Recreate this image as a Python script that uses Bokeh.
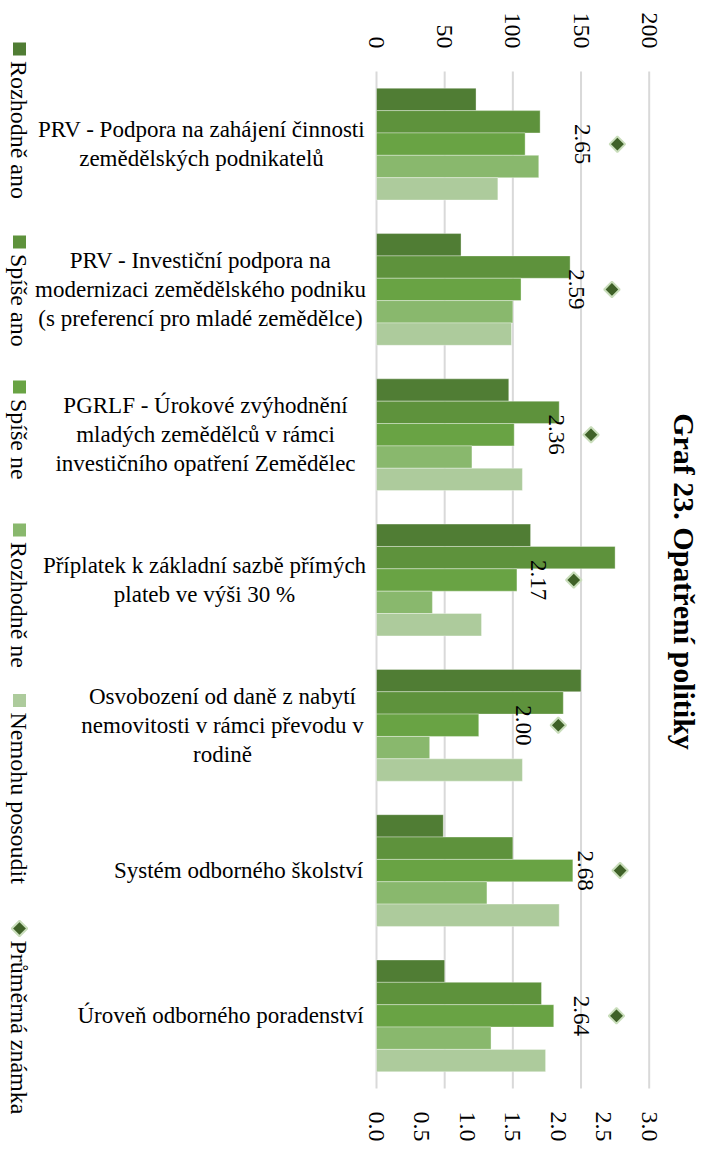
import math
from bokeh.plotting import figure
from bokeh.models import (Range1d, LinearAxis, FixedTicker,
                          ColumnDataSource, PrintfTickFormatter)
from bokeh.core.properties import value
from bokeh.embed import file_html
from bokeh.resources import INLINE

# ---------------- data ----------------
categories = [
    "PRV - Podpora na zahájení činnosti\nzemědělských podnikatelů",
    "PRV - Investiční podpora na\nmodernizaci zemědělského podniku\n(s preferencí pro mladé zemědělce)",
    "PGRLF - Úrokové zvýhodnění\nmladých zemědělců v rámci\ninvestičního opatření Zemědělec",
    "Příplatek k základní sazbě přímých\nplateb ve výši 30 %",
    "Osvobození od daně z nabytí\nnemovitosti v rámci převodu v\nrodině",
    "Systém odborného školství",
    "Úroveň odborného poradenství",
]
series = ["Rozhodně ano", "Spíše ano", "Spíše ne", "Rozhodně ne", "Nemohu posoudit"]
rozhodne_ano = [73, 62, 97, 113, 150, 49, 50]
spise_ano = [120, 142, 134, 175, 137, 100, 121]
spise_ne = [109, 106, 101, 103, 75, 144, 130]
rozhodne_ne = [119, 100, 70, 41, 39, 81, 84]
nemohu_posoudit = [89, 99, 107, 77, 107, 134, 124]
prumerna_znamka = [2.65, 2.59, 2.36, 2.17, 2.00, 2.68, 2.64]
avg_labels = ["2.65", "2.59", "2.36", "2.17", "2.00", "2.68", "2.64"]
avg_name = "Průměrná známka"
top_ticks = [0, 50, 100, 150, 200]
bottom_ticks = [0.0, 0.5, 1.0, 1.5, 2.0, 2.5, 3.0]
title_text = "Graf 23. Opatření politiky"

colors = ["#507D34", "#5E923C", "#69A344", "#89B86D", "#ADCB9C"]
diamond_fill = "#3F6128"
diamond_line = "#C9DDBB"
grid_color = "#D9D9D9"
FONT = "'Liberation Serif', serif"

# ---------------- layout constants (page pixels) ----------------
plot_top, plot_bottom = 71, 1088          # extent of the bar area / grid lines
frame_top, frame_bottom = 38, 1124        # drawing frame (also holds the legend)
frame_w, frame_h = 662, frame_bottom - frame_top
zero_px = 376.0
px_per_unit = 272.7 / 200.0
x_start = -zero_px / px_per_unit
x_end = (frame_w - zero_px) / px_per_unit
scale2 = 3.0 / 200.0

# slot geometry on the category axis (1 slot = one bar)
n_ser = len(series)
gap = 1.5
pad = 0.75
group_w = n_ser + gap
total_slots = pad * 2 + len(categories) * n_ser + (len(categories) - 1) * gap
slot_px = (plot_bottom - plot_top) / total_slots
y_top = -(plot_top - frame_top) / slot_px
y_bottom = total_slots + (frame_bottom - plot_bottom) / slot_px

# horizontal centre (page px) of each category label block
label_x_px = [201, 200, 205, 204, 222, 238, 220]


def group_center(ci):
    return pad + ci * group_w + n_ser / 2.0


values = [rozhodne_ano, spise_ano, spise_ne, rozhodne_ne, nemohu_posoudit]
ys, rights, cols = [], [], []
for ci in range(len(categories)):
    for si in range(n_ser):
        ys.append(pad + ci * group_w + si + 0.5)
        rights.append(values[si][ci])
        cols.append(colors[si])
bar_src = ColumnDataSource(dict(y=ys, right=rights, color=cols))

p = figure(
    frame_width=frame_w, frame_height=frame_h,
    x_range=Range1d(x_start, x_end),
    y_range=Range1d(y_bottom, y_top),
    x_axis_location="above", y_axis_location=None,
    toolbar_location=None, output_backend="svg",
    min_border_left=0, min_border_right=42, min_border_top=frame_top,
    min_border_bottom=1148 - frame_bottom,
)
p.extra_x_ranges = {"avg": Range1d(x_start * scale2, x_end * scale2),
                    "pxx": Range1d(0, frame_w)}
p.extra_y_ranges = {"pxy": Range1d(frame_bottom, frame_top)}
p.outline_line_color = None
p.grid.visible = False


def style_axis(a, standoff):
    a.axis_line_color = None
    a.major_tick_line_color = None
    a.minor_tick_line_color = None
    a.major_tick_in = 0
    a.major_tick_out = 0
    a.major_label_orientation = -math.pi / 2
    a.major_label_standoff = standoff
    a.major_label_text_font = FONT
    a.major_label_text_font_size = "24px"
    a.major_label_text_color = "black"


ax = p.xaxis[0]
ax.ticker = FixedTicker(ticks=top_ticks)
style_axis(ax, -((plot_top - 23) - frame_top))

ax2 = LinearAxis(x_range_name="avg", ticker=FixedTicker(ticks=bottom_ticks),
                 formatter=PrintfTickFormatter(format="%.1f"))
style_axis(ax2, (plot_bottom + 23) - frame_bottom)
p.add_layout(ax2, "below")

# vertical gridlines limited to the bar area
p.segment(x0=top_ticks, x1=top_ticks, y0=[0] * len(top_ticks),
          y1=[total_slots] * len(top_ticks), line_color=grid_color, line_width=2)

p.hbar(y="y", left=0, right="right", height=1.0, source=bar_src,
       fill_color="color", line_color="white", line_alpha=0.35, line_width=1)

centers = [group_center(ci) for ci in range(len(categories))]
avg_src = ColumnDataSource(dict(y=centers, x=prumerna_znamka, lab=avg_labels))
p.scatter(x="x", y="y", source=avg_src, x_range_name="avg", marker="square",
          angle=math.pi / 4, size=11, fill_color=diamond_fill,
          line_color=diamond_line, line_width=2)
p.text(x="x", y="y", text="lab", source=avg_src, x_range_name="avg",
       angle=-math.pi / 2, x_offset=-35, text_align="center", text_baseline="middle",
       text_font=value(FONT), text_font_size="23px", text_color="black")

cat_src = ColumnDataSource(dict(y=centers, x=label_x_px, t=categories))
p.text(x="x", y="y", text="t", source=cat_src, x_range_name="pxx",
       text_align="center", text_baseline="middle", text_line_height=1.15,
       text_font=value(FONT), text_font_size="23px", text_color="black")

p.title.text = title_text
p.title_location = "right"
p.title.align = "center"
p.title.text_font = FONT
p.title.text_font_size = "30px"
p.title.text_font_style = "bold"
p.title.text_color = "black"

# ---------------- legend (rotated, left edge) ----------------
legend_names = series + [avg_name]
legend_y = [48.5, 241.5, 386.5, 529.5, 700, 928]
marker_x = 19
text_x = 18

p.scatter(x=[marker_x] * 5, y=legend_y[:5], x_range_name="pxx", y_range_name="pxy",
          marker="square", size=13, fill_color=colors, line_color=None)
p.scatter(x=[marker_x], y=[legend_y[5]], x_range_name="pxx", y_range_name="pxy",
          marker="square", angle=math.pi / 4, size=11, fill_color=diamond_fill,
          line_color=diamond_line, line_width=2)
p.text(x=[text_x] * 6, y=[v + 12 for v in legend_y], text=legend_names,
       x_range_name="pxx", y_range_name="pxy",
       angle=-math.pi / 2, text_align="left", text_baseline="middle",
       text_font=value(FONT), text_font_size="24px", text_color="black")

open("out.html", "w").write(file_html(p, INLINE))
